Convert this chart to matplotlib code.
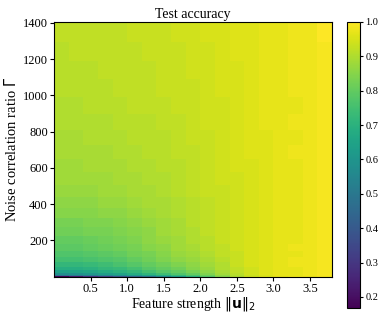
import numpy as np
import matplotlib
matplotlib.use("Agg")
import matplotlib.pyplot as plt

# grid: feature strength (x) and noise correlation ratio Gamma (y)
strength_edges = [0.0, 0.2, 0.4, 0.6, 0.8, 1.0, 1.2, 1.4, 1.6, 1.8, 2.0,
                  2.2, 2.4, 2.6, 2.8, 3.0, 3.2, 3.4, 3.6, 3.8]
gamma_edges = [0, 2.25, 9, 20.25, 36, 56.25, 81, 110.25, 144, 182.25, 225,
               272.25, 324, 380.25, 441, 506.25, 576, 650.25, 729, 812.25,
               900, 992.25, 1089, 1190.25, 1296, 1406.25]

# test accuracy, rows from lowest Gamma to highest
acc = [
    [0.17, 0.22, 0.28, 0.33, 0.38, 0.43, 0.48, 0.55, 0.62, 0.70, 0.78, 0.85, 0.90, 0.94, 0.96, 0.97, 0.98, 0.98, 0.99],
    [0.48, 0.50, 0.52, 0.55, 0.58, 0.61, 0.64, 0.68, 0.72, 0.76, 0.81, 0.86, 0.90, 0.93, 0.95, 0.97, 0.97, 0.98, 0.99],
    [0.58, 0.59, 0.61, 0.63, 0.65, 0.68, 0.71, 0.74, 0.77, 0.80, 0.84, 0.88, 0.91, 0.94, 0.96, 0.97, 0.97, 0.98, 0.99],
    [0.64, 0.65, 0.66, 0.68, 0.70, 0.72, 0.75, 0.78, 0.80, 0.83, 0.86, 0.89, 0.92, 0.94, 0.96, 0.97, 0.97, 0.98, 0.99],
    [0.69, 0.69, 0.70, 0.72, 0.73, 0.75, 0.78, 0.80, 0.82, 0.85, 0.87, 0.90, 0.92, 0.94, 0.96, 0.97, 0.97, 0.98, 0.99],
    [0.72, 0.72, 0.73, 0.74, 0.76, 0.78, 0.80, 0.82, 0.84, 0.86, 0.88, 0.90, 0.93, 0.95, 0.96, 0.97, 0.98, 0.98, 0.99],
    [0.75, 0.75, 0.76, 0.77, 0.78, 0.80, 0.82, 0.84, 0.86, 0.87, 0.89, 0.91, 0.93, 0.95, 0.96, 0.97, 0.98, 0.98, 0.99],
    [0.77, 0.77, 0.78, 0.79, 0.80, 0.82, 0.83, 0.85, 0.87, 0.88, 0.90, 0.92, 0.93, 0.95, 0.96, 0.97, 0.97, 0.98, 0.99],
    [0.79, 0.79, 0.80, 0.81, 0.82, 0.83, 0.85, 0.86, 0.88, 0.89, 0.91, 0.92, 0.94, 0.95, 0.96, 0.97, 0.98, 0.98, 0.99],
    [0.80, 0.80, 0.81, 0.82, 0.83, 0.84, 0.86, 0.87, 0.88, 0.90, 0.91, 0.93, 0.94, 0.95, 0.96, 0.97, 0.97, 0.98, 0.99],
    [0.82, 0.82, 0.83, 0.83, 0.84, 0.85, 0.86, 0.88, 0.89, 0.90, 0.92, 0.93, 0.94, 0.95, 0.96, 0.97, 0.97, 0.98, 0.99],
    [0.83, 0.83, 0.84, 0.84, 0.85, 0.86, 0.87, 0.88, 0.89, 0.91, 0.92, 0.93, 0.94, 0.95, 0.96, 0.97, 0.97, 0.98, 0.99],
    [0.85, 0.85, 0.85, 0.86, 0.86, 0.87, 0.88, 0.89, 0.90, 0.91, 0.92, 0.93, 0.94, 0.95, 0.96, 0.97, 0.97, 0.98, 0.99],
    [0.86, 0.86, 0.86, 0.87, 0.87, 0.88, 0.89, 0.89, 0.90, 0.91, 0.92, 0.93, 0.94, 0.95, 0.96, 0.97, 0.97, 0.98, 0.99],
    [0.87, 0.87, 0.87, 0.88, 0.88, 0.89, 0.89, 0.90, 0.91, 0.92, 0.93, 0.93, 0.94, 0.95, 0.96, 0.97, 0.97, 0.98, 0.99],
    [0.88, 0.88, 0.88, 0.88, 0.89, 0.89, 0.90, 0.90, 0.91, 0.92, 0.93, 0.94, 0.94, 0.95, 0.96, 0.97, 0.97, 0.98, 0.99],
    [0.88, 0.88, 0.89, 0.89, 0.89, 0.90, 0.90, 0.91, 0.91, 0.92, 0.93, 0.94, 0.95, 0.95, 0.96, 0.97, 0.97, 0.98, 0.99],
    [0.89, 0.89, 0.89, 0.89, 0.90, 0.90, 0.91, 0.91, 0.92, 0.92, 0.93, 0.94, 0.95, 0.96, 0.96, 0.97, 0.98, 0.98, 0.99],
    [0.89, 0.89, 0.90, 0.90, 0.90, 0.91, 0.91, 0.91, 0.92, 0.93, 0.93, 0.94, 0.95, 0.96, 0.96, 0.97, 0.97, 0.98, 0.99],
    [0.90, 0.90, 0.90, 0.90, 0.91, 0.91, 0.91, 0.92, 0.92, 0.93, 0.94, 0.94, 0.95, 0.96, 0.97, 0.97, 0.98, 0.98, 0.99],
    [0.90, 0.90, 0.91, 0.91, 0.91, 0.92, 0.92, 0.92, 0.93, 0.93, 0.94, 0.94, 0.95, 0.96, 0.97, 0.97, 0.97, 0.98, 0.99],
    [0.91, 0.91, 0.91, 0.91, 0.92, 0.92, 0.92, 0.93, 0.93, 0.93, 0.94, 0.95, 0.95, 0.96, 0.97, 0.97, 0.98, 0.98, 0.99],
    [0.91, 0.91, 0.91, 0.92, 0.92, 0.92, 0.92, 0.93, 0.93, 0.94, 0.94, 0.95, 0.95, 0.96, 0.97, 0.97, 0.98, 0.98, 0.99],
    [0.91, 0.92, 0.92, 0.92, 0.92, 0.92, 0.93, 0.93, 0.93, 0.94, 0.94, 0.95, 0.96, 0.96, 0.97, 0.97, 0.98, 0.98, 0.99],
    [0.92, 0.92, 0.92, 0.92, 0.92, 0.93, 0.93, 0.93, 0.94, 0.94, 0.95, 0.95, 0.96, 0.96, 0.97, 0.97, 0.98, 0.98, 1.00],
]

x_ticks = [0.5, 1.0, 1.5, 2.0, 2.5, 3.0, 3.5]
y_ticks = [200, 400, 600, 800, 1000, 1200, 1400]
cbar_ticks = [0.2, 0.3, 0.4, 0.5, 0.6, 0.7, 0.8, 0.9, 1.0]

plt.rcParams['font.family'] = ['Liberation Serif', 'DejaVu Sans']
plt.rcParams['mathtext.fontset'] = 'dejavusans'

fig = plt.figure(figsize=(3.81, 3.12), dpi=100)
ax = fig.add_axes([0.142, 0.113, 0.729, 0.817])
cax = fig.add_axes([0.911, 0.013, 0.034, 0.917])

mesh = ax.pcolormesh(strength_edges, gamma_edges, np.array(acc),
                     cmap='viridis', vmin=0.168, vmax=1.0, shading='flat')
ax.set_xlim(strength_edges[0], strength_edges[-1])
ax.set_ylim(gamma_edges[0], gamma_edges[-1])
ax.set_xticks(x_ticks)
ax.set_yticks(y_ticks)
ax.tick_params(labelsize=9, length=3)
ax.tick_params(axis='x', pad=1.5)
ax.tick_params(axis='y', pad=1.5)
ax.set_title('Test accuracy', fontsize=10, pad=3)
ax.set_xlabel(r'Feature strength $\|\mathbf{u}\|_2$', fontsize=10, labelpad=0)
ax.set_ylabel(r'Noise correlation ratio $\Gamma$', fontsize=10.5, labelpad=3)

cb = fig.colorbar(mesh, cax=cax, ticks=cbar_ticks)
cb.ax.tick_params(labelsize=7.5, length=2.5, pad=1.5)

fig.savefig('out.png', dpi=100)
